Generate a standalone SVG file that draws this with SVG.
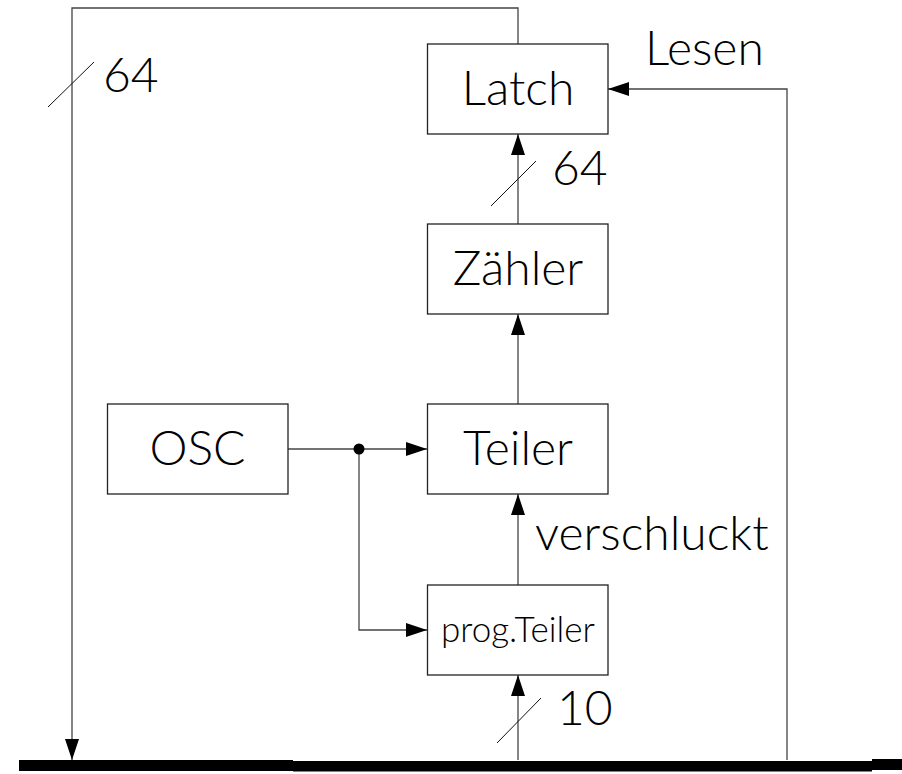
<svg xmlns="http://www.w3.org/2000/svg" width="902" height="774" viewBox="0 0 902 774">
  <style>
    .box { fill: #fff; stroke: #222; stroke-width: 1.3; }
    .wire { fill: none; stroke: #444; stroke-width: 1.3; }
    .tick { stroke: #111; stroke-width: 1; }
    .lbl { font-family: Lato, "Liberation Sans", Arial, sans-serif; font-weight: 300; font-size: 48px; fill: #000; }
    .small { font-size: 35px; }
  </style>
  <defs>
    <marker id="arrow" markerUnits="userSpaceOnUse" viewBox="0 0 21 14" markerWidth="21" markerHeight="14" refX="21" refY="7" orient="auto">
      <path d="M0,0 L21,7 L0,14 Z" fill="#000"/>
    </marker>
  </defs>

  <rect width="902" height="774" fill="#fff"/>

  <!-- system bus -->
  <path d="M19,760 H293 V761 H872 V759 H902 V770 H872 V771.5 H293 V771 H19 Z" fill="#000"/>

  <g id="connectors">
    <path class="wire" d="M518,44 V8 H72 V760" marker-end="url(#arrow)"/>
    <path class="wire" d="M787,760 V89 H608" marker-end="url(#arrow)"/>
    <path class="wire" d="M518,224 V134" marker-end="url(#arrow)"/>
    <path class="wire" d="M518,404 V314" marker-end="url(#arrow)"/>
    <path class="wire" d="M518,585 V494" marker-end="url(#arrow)"/>
    <path class="wire" d="M518,760 V675" marker-end="url(#arrow)"/>
    <path class="wire" d="M288,449 H427" marker-end="url(#arrow)"/>
    <path class="wire" d="M359,449 V630 H427" marker-end="url(#arrow)"/>
    <circle cx="359" cy="449" r="5.5" fill="#000"/>
    <!-- bus width ticks -->
    <line class="tick" x1="48" y1="107" x2="94" y2="62"/>
    <line class="tick" x1="491" y1="206" x2="536" y2="161"/>
    <line class="tick" x1="497" y1="743" x2="541" y2="698"/>
    <text class="lbl" x="103" y="92">64</text>
    <text class="lbl" x="552" y="185">64</text>
    <text class="lbl" x="557" y="725">10</text>
    <text class="lbl" x="645" y="65">Lesen</text>
    <text class="lbl" x="535" y="550">verschluckt</text>
  </g>

  <g id="latch">
    <rect class="box" x="427.5" y="44" width="180.5" height="90"/>
    <text class="lbl" x="518" y="105" text-anchor="middle">Latch</text>
  </g>

  <g id="zaehler">
    <rect class="box" x="427.5" y="224" width="180.5" height="90"/>
    <text class="lbl" x="518" y="285" text-anchor="middle">Zähler</text>
  </g>

  <g id="teiler">
    <rect class="box" x="427.5" y="404" width="180.5" height="90"/>
    <text class="lbl" x="518" y="465" text-anchor="middle">Teiler</text>
  </g>

  <g id="osc">
    <rect class="box" x="107.5" y="404" width="180.5" height="90"/>
    <text class="lbl" x="197.5" y="465" text-anchor="middle">OSC</text>
  </g>

  <g id="prog-teiler">
    <rect class="box" x="427.5" y="585" width="180.5" height="90"/>
    <text class="lbl small" x="518" y="642" text-anchor="middle">prog.Teiler</text>
  </g>
</svg>
